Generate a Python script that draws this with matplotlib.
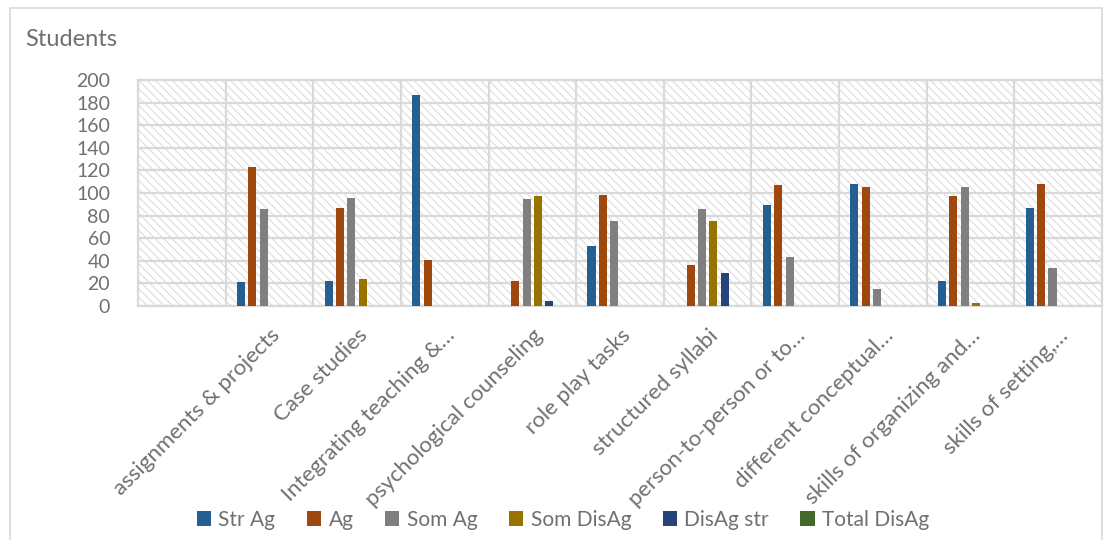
import numpy as np
import matplotlib.pyplot as plt
from matplotlib.patches import Rectangle

plt.rcParams['font.family'] = ['Lato', 'DejaVu Sans']
plt.rcParams['hatch.linewidth'] = 0.8

# first slot of the category axis is empty in the original chart
categories = ["", "assignments & projects", "Case studies", "Integrating teaching &…",
              "psychological counseling", "role play tasks", "structured syllabi",
              "person-to-person or to…", "different conceptual…",
              "skills of organizing and…", "skills of setting,…"]

series_names = ["Str Ag", "Ag", "Som Ag", "Som DisAg", "DisAg str", "Total DisAg"]
str_ag = [0, 21, 22, 187, 0, 53, 0, 89, 108, 22, 87]
ag = [0, 123, 87, 41, 22, 98, 36, 107, 105, 97, 108]
som_ag = [0, 86, 96, 0, 95, 75, 86, 43, 15, 105, 34]
som_disag = [0, 0, 24, 0, 97, 0, 75, 0, 0, 3, 0]
disag_str = [0, 0, 0, 0, 4, 0, 29, 0, 0, 0, 0]
total_disag = [0, 0, 0, 0, 0, 0, 0, 0, 0, 0, 0]

colors = ["#255E91", "#9E480E", "#7F7F7F", "#997300", "#264478", "#43682B"]
grid_c = "#D9D9D9"
text_c = "#707070"

fig = plt.figure(figsize=(11.09, 5.40), dpi=100)
ax = fig.add_axes([138/1109, 1 - 306/540, (1102 - 138)/1109, (306 - 80)/540])

n = len(categories)
x = np.arange(n)

# hatched plot background
ax.add_patch(Rectangle((-0.5, 0), n, 200, facecolor="white", edgecolor="#DDDDDD",
                       linewidth=0, hatch="\\\\\\\\", zorder=0))

# gridlines
for yv in range(0, 201, 20):
    ax.axhline(yv, color=grid_c, lw=1.6, zorder=1)
for xv in np.arange(-0.5, n, 1):
    ax.axvline(xv, color=grid_c, lw=1.6, zorder=1)

all_vals = [str_ag, ag, som_ag, som_disag, disag_str, total_disag]
step = 0.13
width = 0.092
for i, (vals, name, c) in enumerate(zip(all_vals, series_names, colors)):
    ax.bar(x + (i - 2.5) * step, vals, width, color=c, label=name, zorder=3)

ax.set_xlim(-0.5, n - 0.5)
ax.set_ylim(0, 200)
ax.set_yticks(range(0, 201, 20))
ax.tick_params(axis='y', length=0, labelsize=14, labelcolor=text_c, pad=20)
ax.set_xticks(x)
ax.set_xticklabels(categories, rotation=45, ha='right', rotation_mode='anchor',
                   fontsize=16, color=text_c)
ax.tick_params(axis='x', length=0, pad=14)
for s in ax.spines.values():
    s.set_color(grid_c)
    s.set_linewidth(1.6)

fig.text(25/1109, 1 - 40/540, "Students", fontsize=17, color=text_c, va='center')

leg = fig.legend(loc='center', bbox_to_anchor=(563/1109, 1 - 520/540), ncol=6,
                 frameon=False, fontsize=15, handlelength=0.7, handleheight=0.7,
                 handletextpad=0.35, columnspacing=1.5)
for t in leg.get_texts():
    t.set_color(text_c)

# outer chart border
fig.add_artist(Rectangle((10/1109, -0.02), (1102 - 10)/1109, 1.02 - 8/540,
                         transform=fig.transFigure, fill=False, edgecolor=grid_c, lw=1.2))

fig.savefig("out.png", dpi=100)
